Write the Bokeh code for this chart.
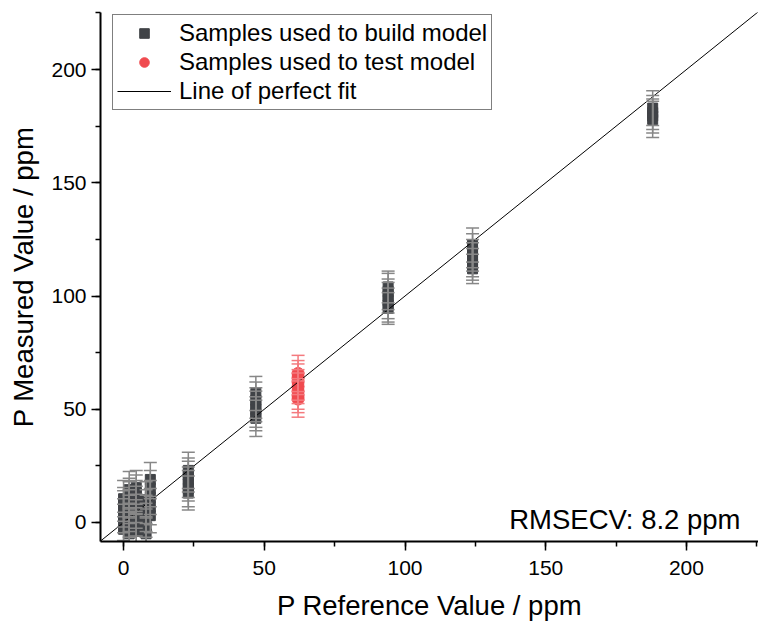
from bokeh.plotting import figure
from bokeh.models import (ColumnDataSource, Whisker, TeeHead, Legend, LegendItem,
                          Range1d, SingleIntervalTicker, Label)
from bokeh.embed import file_html
from bokeh.resources import INLINE

# ---- data ----
build_ref = [0, 0, 0, 0, 0, 0,
             2, 2, 2, 2, 2, 2, 2, 2,
             4.5, 4.5, 4.5, 4.5, 4.5, 4.5, 4.5, 4.5,
             8, 8, 8, 8, 8, 8,
             9.5, 9.5, 9.5, 9.5, 9.5,
             23, 23, 23, 23, 23, 23,
             47, 47, 47, 47, 47, 47,
             94, 94, 94, 94, 94, 94,
             124, 124, 124, 124, 124, 124,
             188, 188, 188, 188]
build_meas = [-3, 0, 3, 6, 8, 10.5,
              -5, -2, 1, 4, 7, 10, 12, 14.5,
              -4, -1, 2, 5, 8, 11, 13, 15.5,
              -5, -2, 1, 4, 7, 10,
              3, 7, 11, 15, 19,
              13, 15, 17, 19, 21, 23,
              46, 48, 50, 52, 54, 57,
              94.5, 96, 98, 100, 102, 104,
              112, 114, 116, 118, 120, 122.5,
              178, 179.5, 181, 183]
build_err = [7.5, 8, 7.5, 8, 7.5, 8,
             7.5, 8, 7.5, 8, 7.5, 8, 7.5, 8,
             8, 7.5, 8, 7.5, 8, 7.5, 8, 7.5,
             7.5, 8, 7.5, 8, 7.5, 8,
             7.5, 8, 7.5, 8, 7.5,
             7.5, 8, 7.5, 8, 7.5, 8,
             8, 7.5, 8, 7.5, 8, 7.5,
             7, 7.5, 8, 7.5, 8, 7,
             6.5, 7, 7.5, 7, 7.5, 7.5,
             8, 7.5, 7.5, 7.7]

test_ref = [62, 62, 62, 62, 62, 62, 62]
test_meas = [54.5, 56, 58, 60, 62, 64, 65.8]
test_err = [8, 7.5, 8, 7.5, 8, 7.5, 8]

fit_x = [-20, 240]
fit_y = [-20, 240]

rmsecv_text = "RMSECV: 8.2 ppm"

FONT = "Liberation Sans"
DARK = "#404347"
RED = "#f04a4f"

p = figure(width=758, height=623, output_backend="svg", toolbar_location=None,
           x_range=Range1d(-8.2, 225.6), y_range=Range1d(-8.4, 225.2),
           min_border_left=100, min_border_right=0, min_border_top=12,
           min_border_bottom=82)
p.outline_line_color = None
p.xgrid.visible = False
p.ygrid.visible = False
p.background_fill_color = "white"
p.border_fill_color = "white"

bsrc = ColumnDataSource(dict(x=build_ref, y=build_meas,
                             lo=[m - e for m, e in zip(build_meas, build_err)],
                             hi=[m + e for m, e in zip(build_meas, build_err)]))
tsrc = ColumnDataSource(dict(x=test_ref, y=test_meas,
                             lo=[m - e for m, e in zip(test_meas, test_err)],
                             hi=[m + e for m, e in zip(test_meas, test_err)]))

r_build = p.scatter("x", "y", source=bsrc, marker="square", size=10,
                    fill_color=DARK, line_color=DARK)
r_test = p.scatter("x", "y", source=tsrc, marker="circle", size=12,
                   fill_color=RED, line_color=RED)

for src, col in ((bsrc, "#878787"), (tsrc, "#f47a7e")):
    w = Whisker(source=src, base="x", lower="lo", upper="hi", dimension="height",
                line_color=col, line_width=1.5, level="glyph",
                upper_head=TeeHead(size=13, line_color=col, line_width=1.5),
                lower_head=TeeHead(size=13, line_color=col, line_width=1.5))
    p.add_layout(w)

r_fit = p.line(fit_x, fit_y, line_color="black", line_width=1)

# axes
for ax in (p.xaxis[0], p.yaxis[0]):
    ax.ticker = SingleIntervalTicker(interval=50, num_minor_ticks=2)
    ax.axis_line_width = 2
    ax.major_tick_line_width = 1.5
    ax.minor_tick_line_width = 1.5
    ax.major_tick_out = 9
    ax.major_tick_in = 0
    ax.minor_tick_out = 5
    ax.minor_tick_in = 0
    ax.major_label_text_font = FONT
    ax.major_label_text_font_size = "21px"
    ax.major_label_text_color = "black"
    ax.axis_label_text_font = FONT
    ax.axis_label_text_font_size = "27.5px"
    ax.axis_label_text_font_style = "normal"
    ax.axis_label_text_color = "black"

p.xaxis.axis_label = "P Reference Value / ppm"
p.yaxis.axis_label = "P Measured Value / ppm"
p.xaxis.major_label_standoff = 10
p.xaxis.axis_label_standoff = 12
p.yaxis.major_label_standoff = 5
p.yaxis.axis_label_standoff = 9

p.add_layout(Label(x=640, y=22, x_units="screen", y_units="screen", text=rmsecv_text,
                   text_font=FONT, text_font_size="27.5px", text_align="right",
                   text_baseline="alphabetic", text_color="black"))

legend = Legend(items=[LegendItem(label="Samples used to build model", renderers=[r_build]),
                       LegendItem(label="Samples used to test model", renderers=[r_test]),
                       LegendItem(label="Line of perfect fit", renderers=[r_fit])],
                location=(12, 431), padding=4, spacing=1, margin=0,
                glyph_width=54, glyph_height=24, label_height=26,
                label_standoff=8, label_text_font=FONT, label_text_font_size="24px",
                label_text_color="black",
                border_line_color="black", border_line_width=1,
                background_fill_color="white", background_fill_alpha=1)
p.add_layout(legend)

open("out.html", "w").write(file_html(p, INLINE))
